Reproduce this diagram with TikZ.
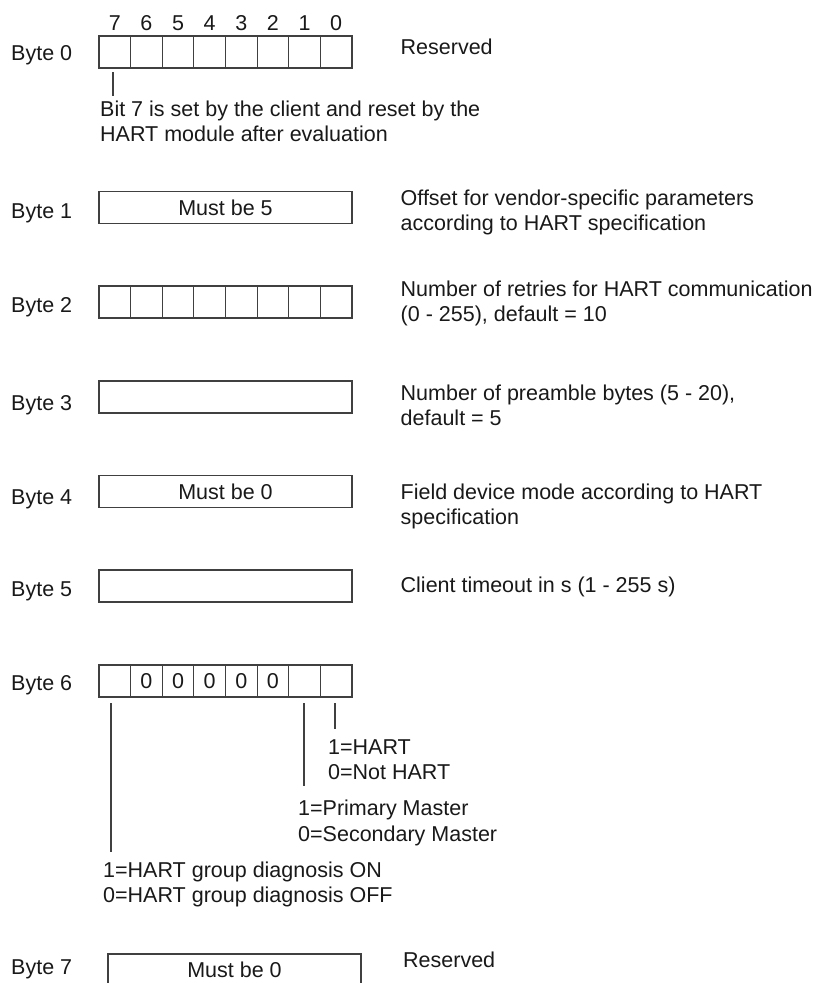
\documentclass[tikz,border=0pt]{standalone}
\usepackage{fontspec}
\setmainfont{Liberation Sans}
\begin{document}
\begin{tikzpicture}[x=1pt,y=-1pt,
  txt/.style={font=\fontsize{21.5}{25}\selectfont, inner sep=0pt, anchor=base west, text=black!90},
  cell/.style={draw=black!75, line width=1.1pt, minimum width=31.625pt, minimum height=32pt, inner sep=0pt, font=\fontsize{21.5}{25}\selectfont, text=black!90},
  bytebox/.style={draw=black!75, line width=1.1pt, minimum width=253pt, minimum height=32pt, inner sep=0pt, font=\fontsize{21.5}{25}\selectfont, text=black!90},
  digit/.style={font=\fontsize{21.5}{25}\selectfont, inner sep=0pt, anchor=base, text=black!90},
  lead/.style={draw=black!75, line width=1.1pt}]
\clip (0,0) rectangle (819,983);
\fill[white] (0,0) rectangle (819,983);

% ---------- Byte 0 ----------
\foreach \i [evaluate=\i as \b using int(7-\i)] in {0,...,7} {
  \node[cell] (r0b\b) at ({99+31.625*(\i+0.5)},52) {};
  \node[digit] (d\b) at ({99+31.625*(\i+0.5)},30) {\b};
}
\node[txt] (l0) at (11,60) {Byte 0};
\node[txt] (t0) at (400.5,54) {Reserved};
\coordinate (s0) at (113,72);
\coordinate (e0) at (113,96);
\draw[lead] (s0) -- (e0);
\node[txt] (n0a) at (100,116) {Bit 7 is set by the client and reset by the};
\node[txt] (n0b) at (100,141) {HART module after evaluation};

% ---------- Byte 1 ----------
\node[bytebox] (r1) at (225.5,207.5) {Must be 5};
\node[txt] (l1) at (11,218) {Byte 1};
\node[txt] (t1a) at (400.5,205.5) {Offset for vendor-specific parameters};
\node[txt] (t1b) at (400.5,230) {according to HART specification};

% ---------- Byte 2 ----------
\foreach \i [evaluate=\i as \b using int(7-\i)] in {0,...,7} {
  \node[cell] (r2b\b) at ({99+31.625*(\i+0.5)},302) {};
}
\node[txt] (l2) at (11,312.5) {Byte 2};
\node[txt] (t2a) at (400.5,296) {Number of retries for HART communication};
\node[txt] (t2b) at (400.5,321) {(0 - 255), default = 10};

% ---------- Byte 3 ----------
\node[bytebox] (r3) at (225.5,397) {};
\node[txt] (l3) at (11,410.5) {Byte 3};
\node[txt] (t3a) at (400.5,400.5) {Number of preamble bytes (5 - 20),};
\node[txt] (t3b) at (400.5,425.5) {default = 5};

% ---------- Byte 4 ----------
\node[bytebox] (r4) at (225.5,491.5) {Must be 0};
\node[txt] (l4) at (11,504.5) {Byte 4};
\node[txt] (t4a) at (400.5,499) {Field device mode according to HART};
\node[txt] (t4b) at (400.5,524) {specification};

% ---------- Byte 5 ----------
\node[bytebox] (r5) at (225.5,586) {};
\node[txt] (l5) at (11,596.5) {Byte 5};
\node[txt] (t5) at (400.5,592.5) {Client timeout in s (1 - 255 s)};

% ---------- Byte 6 ----------
\foreach \i/\v [evaluate=\i as \b using int(7-\i)] in {0/,1/0,2/0,3/0,4/0,5/0,6/,7/} {
  \node[cell] (r6b\b) at ({99+31.625*(\i+0.5)},681) {\v};
}
\node[txt] (l6) at (11,690.5) {Byte 6};
\coordinate (s6b7) at (111,703);
\coordinate (e6b7) at (111,852);
\coordinate (s6b1) at (304,703);
\coordinate (e6b1) at (304,786);
\coordinate (s6b0) at (335,703);
\coordinate (e6b0) at (335,729);
\draw[lead] (s6b7) -- (e6b7);
\draw[lead] (s6b1) -- (e6b1);
\draw[lead] (s6b0) -- (e6b0);
\node[txt] (h1) at (328,754.5) {1=HART};
\node[txt] (h0) at (328,779.5) {0=Not HART};
\node[txt] (p1) at (298,815.5) {1=Primary Master};
\node[txt] (p0) at (298,841) {0=Secondary Master};
\node[txt] (g1) at (103,877.5) {1=HART group diagnosis ON};
\node[txt] (g0) at (103,902.5) {0=HART group diagnosis OFF};

% ---------- Byte 7 ----------
\node[bytebox] (r7) at (234.5,970) {Must be 0};
\node[txt] (l7) at (11,974.5) {Byte 7};
\node[txt] (t7) at (403,967.5) {Reserved};
\end{tikzpicture}
\end{document}
